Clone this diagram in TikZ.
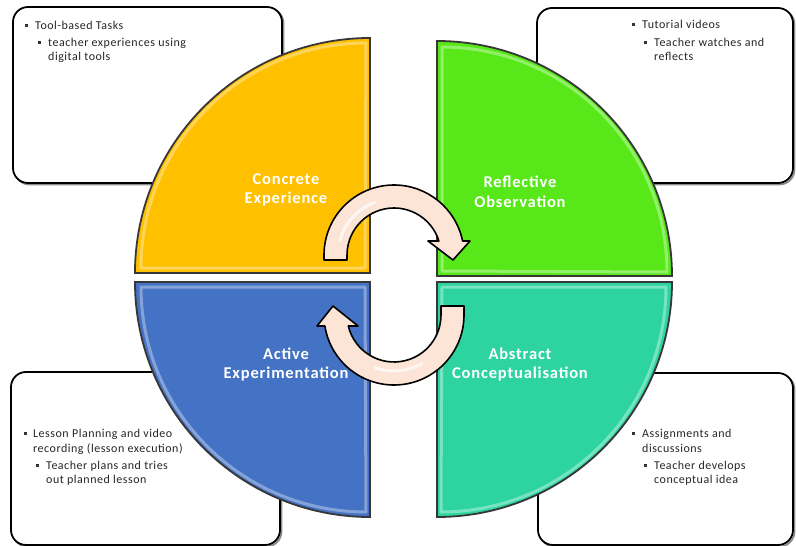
\documentclass[tikz,border=0pt]{standalone}
\usepackage{fontspec}
\setmainfont{Carlito}
\newfontfamily\boxfont[LetterSpace=4.3]{Carlito}
\newfontfamily\lblfont[LetterSpace=5]{Carlito}
\definecolor{cY}{RGB}{255,192,0}
\definecolor{cG}{RGB}{88,232,26}
\definecolor{cB}{RGB}{68,114,196}
\definecolor{cT}{RGB}{46,212,160}
\definecolor{peach}{RGB}{252,228,214}
\definecolor{rim}{RGB}{55,55,55}
\tikzset{
  infobox/.style={draw=black, line width=1.8pt, rounded corners=15pt, fill=white},
  boxshadow/.style={draw=black!45, line width=1.8pt, rounded corners=15pt},
  quad/.style={draw=rim, line width=1.8pt},
  bevel/.style={draw=white, opacity=0.35, line width=3pt, line join=round},
  cycarrow/.style={draw=black, line width=1.6pt, fill=peach, line join=round},
  gleam/.style={draw=white, opacity=0.7, line width=3pt, line cap=round},
  lbl/.style={text=white, font=\lblfont\bfseries\fontsize{16.5}{19}\selectfont, anchor=base, inner sep=0},
  txt/.style={font=\boxfont\fontsize{12}{14}\selectfont, anchor=base west, inner sep=0, text=black!85},
  bul/.style={fill=black!80, minimum size=3pt, inner sep=0, rectangle}
}
\begin{document}
\begin{tikzpicture}[x=1pt,y=1pt]
\useasboundingbox (0,0) rectangle (796,-546);
% info boxes
\draw[boxshadow] (14.5,-8.5) rectangle (283.5,-184.5);
\draw[infobox] (13,-7) rectangle (282,-183);
\draw[boxshadow] (538.5,-9.5) rectangle (794.5,-184.5);
\draw[infobox] (537,-8) rectangle (793,-183);
\draw[boxshadow] (12.5,-373.5) rectangle (281.5,-546.5);
\draw[infobox] (11,-372) rectangle (280,-545);
\draw[boxshadow] (539.5,-374.5) rectangle (794.5,-546.5);
\draw[infobox] (538,-373) rectangle (793,-545);
% quadrants
\draw[quad, fill=cY] (370,-273) -- (135,-273) arc[start angle=180,end angle=90,radius=235] -- cycle;
\draw[bevel] (365,-268) -- (141,-268) arc[start angle=180,end angle=90,radius=225] -- cycle;
\draw[quad, fill=cG] (437,-276) -- (437,-41) arc[start angle=90,end angle=0,radius=235] -- cycle;
\draw[bevel] (442,-271) -- (442,-47) arc[start angle=90,end angle=0,radius=225] -- cycle;
\draw[quad, fill=cB] (370,-282) -- (135,-282) arc[start angle=180,end angle=270,radius=235] -- cycle;
\draw[bevel] (365,-287) -- (141,-287) arc[start angle=180,end angle=270,radius=225] -- cycle;
\draw[quad, fill=cT] (437,-282) -- (672,-282) arc[start angle=0,end angle=-90,radius=235] -- cycle;
\draw[bevel] (442,-287) -- (666,-287) arc[start angle=0,end angle=-90,radius=225] -- cycle;
% quadrant labels
\node[lbl] (ce1) at (286,-184) {Concrete};
\node[lbl] (ce2) at (286,-203) {Experience};
\node[lbl] (ro1) at (520,-187) {Reflective};
\node[lbl] (ro2) at (520,-207) {Observation};
\node[lbl] (ae1) at (286,-359) {Active};
\node[lbl] (ae2) at (286,-378) {Experimentation};
\node[lbl] (ac1) at (520,-359) {Abstract};
\node[lbl] (ac2) at (520,-378) {Conceptualisation};
% cycle arrows
\draw[cycarrow] (347,-260) -- (324,-260) -- (324,-255)
  arc[start angle=180,end angle=11.54,radius=70] -- (470,-241) -- (453,-260) -- (428,-241)
  -- (438.9,-241) arc[start angle=17.33,end angle=180,radius=47] -- cycle;
\draw[gleam] (394,-255) ++(165:56) arc[start angle=165,end angle=110,radius=56];
\draw[cycarrow] (441,-306) -- (464,-306) -- (464,-315)
  arc[start angle=0,end angle=-170.96,radius=70] -- (317,-326) -- (333,-306) -- (358,-326)
  -- (348.3,-326) arc[start angle=-166.45,end angle=0,radius=47] -- cycle;
\draw[gleam] (394,-315) ++(-60:56) arc[start angle=-60,end angle=-110,radius=56];
% top-left text
\node[bul] (b1) at (26,-25.5) {};
\node[txt] (t1) at (35,-29) {Tool-based Tasks};
\node[bul] (b2) at (39.5,-42.5) {};
\node[txt] (t2) at (48,-46) {teacher experiences using};
\node[txt] (t3) at (48,-60) {digital tools};
% top-right text
\node[bul] (b3) at (633,-24.5) {};
\node[txt] (t4) at (642,-28) {Tutorial videos};
\node[bul] (b4) at (645,-42.5) {};
\node[txt] (t5) at (654,-46) {Teacher watches and};
\node[txt] (t6) at (654,-60) {reflects};
% bottom-left text
\node[bul] (b5) at (25,-433.5) {};
\node[txt] (t7) at (33,-437) {Lesson Planning and video};
\node[txt] (t8) at (33,-452) {recording (lesson execution)};
\node[bul] (b6) at (37.5,-465.5) {};
\node[txt] (t9) at (46,-469) {Teacher plans and tries};
\node[txt] (t10) at (46,-483) {out planned lesson};
% bottom-right text
\node[bul] (b7) at (633,-433.5) {};
\node[txt] (t11) at (642,-437) {Assignments and};
\node[txt] (t12) at (642,-452) {discussions};
\node[bul] (b8) at (645,-465.5) {};
\node[txt] (t13) at (654,-469) {Teacher develops};
\node[txt] (t14) at (654,-483) {conceptual idea};
\end{tikzpicture}
\end{document}
